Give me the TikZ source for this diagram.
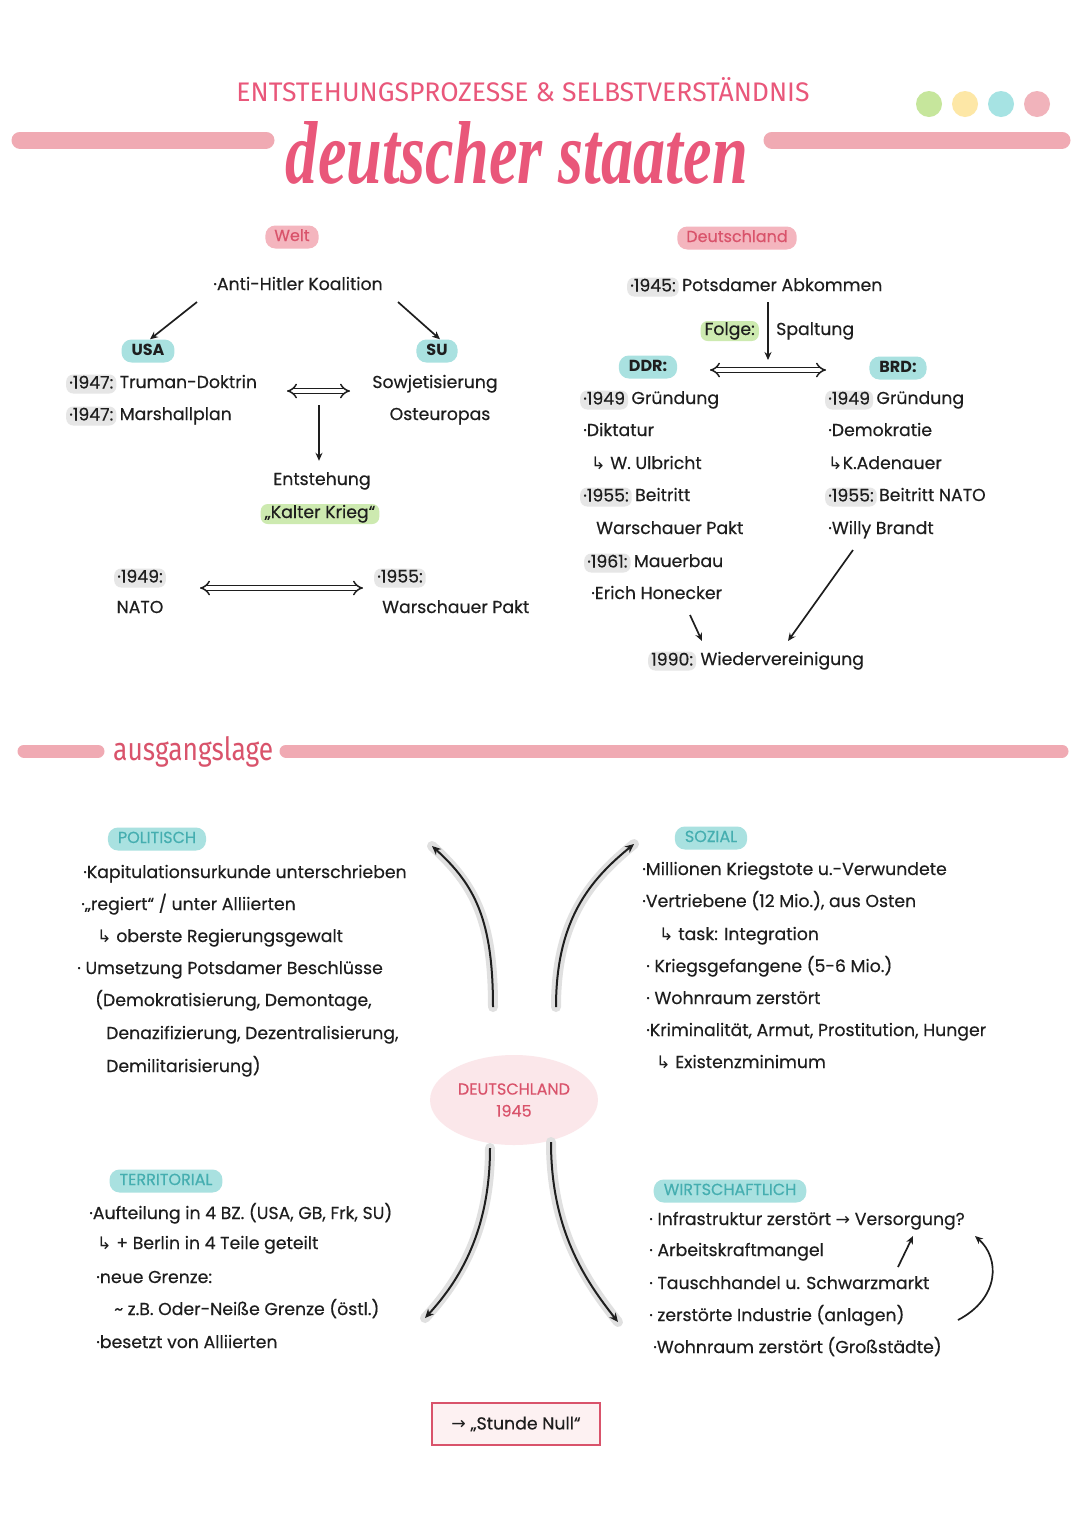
\documentclass[tikz,border=0pt]{standalone}
\usepackage{fontspec}
\setmainfont{Poppins}[UprightFeatures={FakeBold=0.35}]
\newfontfamily\symf{DejaVu Sans}
\newfontfamily\subf{Fira Sans}
\newfontfamily\titlef{Liberation Serif}
\usetikzlibrary{arrows.meta,shapes.geometric,calc}
\definecolor{ink}{HTML}{1E1E1E}
\definecolor{barpink}{HTML}{F0AAB3}
\definecolor{pillpinkc}{HTML}{F4B5BE}
\definecolor{redtxt}{HTML}{D9536B}
\definecolor{titlered}{HTML}{E9577A}
\definecolor{cyanfill}{HTML}{A9E1E0}
\definecolor{cyantxt}{HTML}{45AEB0}
\definecolor{greenhl}{HTML}{CDEAB0}
\definecolor{greyhl}{HTML}{E6E6E6}
\definecolor{dotgreen}{HTML}{C6E69C}
\definecolor{dotyellow}{HTML}{FDE7A6}
\definecolor{dotcyan}{HTML}{A6E3E3}
\definecolor{dotpink}{HTML}{F1B3BB}
\definecolor{ellfill}{HTML}{FBE7EA}
\definecolor{boxfill}{HTML}{FDF1F2}
\newcommand\bodyf{\fontsize{17.3}{20}\selectfont}
\newcommand\pillf{\fontsize{16}{18}\selectfont}
\newcommand\hk{{\symf ↳}}
\newcommand\ra{{\symf →}}
\tikzset{
  txt/.style={font=\bodyf, text=ink, inner sep=1pt, text height=12pt, text depth=4pt, anchor=west},
  txtc/.style={font=\bodyf, text=ink, inner sep=1pt, text height=12pt, text depth=4pt},
  yr/.style={font=\bodyf, text=ink, fill=greyhl, rounded corners=7pt, inner xsep=3pt, inner ysep=2pt, text height=12pt, text depth=3pt},
  hlg/.style={font=\bodyf, text=ink, fill=greenhl, rounded corners=7pt, inner xsep=4pt, inner ysep=2pt, text height=12pt, text depth=4pt},
  pillp/.style={font=\pillf, text=redtxt, fill=pillpinkc, rounded corners=10pt, inner xsep=9pt, minimum height=23pt, inner ysep=0pt, text height=11pt, text depth=3pt},
  pillc/.style={font=\pillf\bfseries, text=ink, fill=cyanfill, rounded corners=10pt, inner xsep=10pt, minimum height=23pt, inner ysep=0pt, text height=11pt, text depth=3pt},
  pillct/.style={pillc, font=\pillf, text=cyantxt},
  arr/.style={draw=ink, line width=1.7pt, -{Stealth[length=8pt,width=7pt]}},
  darr/.style={draw=ink, line width=1.5pt, double distance=3.5pt, {Implies}-{Implies}},
  bar/.style={draw=barpink, line width=17pt, line cap=round},
  carr/.style={draw=ink, line width=2pt, -{Stealth[length=9pt,width=8pt]}, preaction={draw=black!12, line width=10pt, line cap=round, -}},
}
\begin{document}
\begin{tikzpicture}[x=1pt,y=-1pt]
\useasboundingbox[fill=white] (0,0) rectangle (1080,1527);

% ---------- header ----------
\node[text=titlered, inner sep=0pt] (sub) at (523,90) {\resizebox{573pt}{24pt}{\subf\fontsize{30}{30}\selectfont ENTSTEHUNGSPROZESSE \& SELBSTVERSTÄNDNIS}};
\node[text=titlered, inner sep=0pt] (tit) at (517,153) {\resizebox{462pt}{62pt}{\titlef\bfseries\itshape deutscher staaten}};
\coordinate (bl1) at (20,140); \coordinate (bl2) at (266,140);
\coordinate (br1) at (772,140); \coordinate (br2) at (1062,140);
\draw[bar] (bl1) -- (bl2);
\draw[bar] (br1) -- (br2);
\fill[dotgreen] (929,104) circle (13);
\fill[dotyellow] (965,104) circle (13);
\fill[dotcyan] (1001,104) circle (13);
\fill[dotpink] (1037,104) circle (13);

% ---------- Welt ----------
\node[pillp] (welt) at (292,237) {Welt};
\node[txtc] (ahk) at (298,286) {·Anti-Hitler Koalition};
\node[pillc] (usa) at (148,351) {USA};
\node[pillc] (su) at (437,351) {SU};
\coordinate (ahkl) at (197,302);
\coordinate (ahkr) at (398,302);
\draw[arr] (ahkl) -- ([xshift=2pt]usa.north);
\draw[arr] (ahkr) -- ([xshift=3pt]su.north);
\node[yr, anchor=west] (y47a) at (66,384) {·1947:};
\node[txt] (tru) at ([xshift=2pt]y47a.east) {Truman-Doktrin};
\node[yr, anchor=west] (y47b) at (66,416) {·1947:};
\node[txt] (mar) at ([xshift=2pt]y47b.east) {Marshallplan};
\node[txtc] (sow) at (435,384) {Sowjetisierung};
\node[txtc] (ost) at (440,416) {Osteuropas};
\coordinate (da1l) at (287,391); \coordinate (da1r) at (350,391);
\draw[darr] (da1l) -- (da1r);
\node[txtc] (ent) at (322,481) {Entstehung};
\coordinate (dstart) at (319,405);
\draw[arr] (dstart) -- ([shift={(-3,-11)}]ent.north);
\node[hlg] (kk) at (320,514) {„Kalter Krieg“};

\node[yr] (y49) at (140,578) {·1949:};
\node[txtc] (nato) at (140,609) {NATO};
\node[yr, anchor=west] (y55) at (374,578) {·1955:};
\node[txt] (wp1) at (381,609) {Warschauer Pakt};
\coordinate (da2l) at (200,588); \coordinate (da2r) at (363,588);
\draw[darr] (da2l) -- (da2r);

% ---------- Deutschland ----------
\node[pillp] (de1) at (737,238) {Deutschland};
\node[yr, anchor=west] (y45) at (627,287) {·1945:};
\node[txt] (pot) at ([xshift=2pt]y45.east) {Potsdamer Abkommen};
\coordinate (vs) at (768,302);
\draw[arr] (vs) -- ++(0,58);
\node[hlg, anchor=east] (folge) at (759,331) {Folge:};
\node[txt] (spal) at (775,331) {Spaltung};
\node[pillc] (ddr) at (648,367) {DDR:};
\node[pillc] (brd) at (898,368) {BRD:};
\coordinate (da3l) at (710,370); \coordinate (da3r) at (826,370);
\draw[darr] (da3l) -- (da3r);

\node[yr, anchor=west] (d49) at (580,400) {·1949};
\node[txt] (d49t) at ([xshift=2pt]d49.east) {Gründung};
\node[txt] (dik) at (582,432) {·Diktatur};
\node[txt] (ulb) at (590,465) {\hk\ W. Ulbricht};
\node[yr, anchor=west] (d55) at (580,497) {·1955:};
\node[txt] (d55t) at ([xshift=2pt]d55.east) {Beitritt};
\node[txt] (wp2) at (595,530) {Warschauer Pakt};
\node[yr, anchor=west] (d61) at (584,563) {·1961:};
\node[txt] (d61t) at ([xshift=2pt]d61.east) {Mauerbau};
\node[txt] (hon) at (590,595) {·Erich Honecker};

\node[yr, anchor=west] (b49) at (825,400) {·1949};
\node[txt] (b49t) at ([xshift=2pt]b49.east) {Gründung};
\node[txt] (dem) at (827,432) {·Demokratie};
\node[txt] (ade) at (827,465) {\hk K.Adenauer};
\node[yr, anchor=west] (b55) at (825,497) {·1955:};
\node[txt] (b55t) at ([xshift=1pt]b55.east) {Beitritt NATO};
\node[txt] (wil) at (827,530) {·Willy Brandt};

\node[yr, anchor=west] (y90) at (648,661) {1990:};
\node[txt] (wv) at ([xshift=3pt]y90.east) {Wiedervereinigung};
\coordinate (honend) at (690,615);
\coordinate (wilend) at (853,550);
\draw[arr] (honend) -- (702,641);
\draw[arr] (wilend) -- (788,641);

% ---------- Ausgangslage ----------
\coordinate (al1) at (24,751); \coordinate (al2) at (98,751);
\coordinate (ar1) at (286,751); \coordinate (ar2) at (1062,751);
\draw[draw=barpink, line width=13pt, line cap=round] (al1) -- (al2);
\draw[draw=barpink, line width=13pt, line cap=round] (ar1) -- (ar2);
\node[text=redtxt, inner sep=0pt, anchor=base west] (ausg) at (113,760) {\resizebox{160pt}{24pt}{\subf\fontsize{30}{30}\selectfont ausgangslage}};

% POLITISCH
\node[pillct] (pol) at (157,839) {POLITISCH};
\node[txt] (p1) at (82,874) {·Kapitulationsurkunde unterschrieben};
\node[txt] (p2) at (80,906) {·„regiert“ / unter Alliierten};
\node[txt] (p3) at (96,938) {\hk\ oberste Regierungsgewalt};
\node[txt] (p4) at (76,970) {·\ Umsetzung Potsdamer Beschlüsse};
\node[txt] (p5) at (94,1002) {(Demokratisierung, Demontage,};
\node[txt] (p6) at (105,1035) {Denazifizierung, Dezentralisierung,};
\node[txt] (p7) at (105,1068) {Demilitarisierung)};

% SOZIAL
\node[pillct] (soz) at (711,838) {SOZIAL};
\node[txt] (s1) at (641,871) {·Millionen Kriegstote u.-Verwundete};
\node[txt] (s2) at (641,903) {·Vertriebene (12 Mio.), aus Osten};
\node[txt] (s3) at (658,936) {\hk\ task: Integration};
\node[txt] (s4) at (645,968) {·\ Kriegsgefangene (5-6 Mio.)};
\node[txt] (s5) at (645,1000) {·\ Wohnraum zerstört};
\node[txt] (s6) at (645,1032) {·Kriminalität, Armut, Prostitution, Hunger};
\node[txt] (s7) at (655,1064) {\hk\ Existenzminimum};

% centre
\node[ellipse, fill=ellfill, minimum width=166pt, minimum height=90pt, align=center, text=redtxt, font=\fontsize{16}{22}\selectfont] (d45) at (514,1100) {DEUTSCHLAND\\1945};
\coordinate (tl) at (432,846);
\coordinate (tr) at (634,844);
\coordinate (bll) at (425,1318);
\coordinate (brr) at (618,1322);
\draw[carr] ([shift={(-21,-93)}]d45.center) .. controls (493,920) and (475,885) .. (tl);
\draw[carr] ([shift={(42,-93)}]d45.center) .. controls (556,920) and (590,880) .. (tr);
\draw[carr] ([shift={(-24,48)}]d45.center) .. controls (490,1230) and (460,1280) .. (bll);
\draw[carr] ([shift={(37,42)}]d45.center) .. controls (551,1230) and (585,1280) .. (brr);

% TERRITORIAL
\node[pillct] (ter) at (166,1181) {TERRITORIAL};
\node[txt] (t1) at (88,1215) {·Aufteilung in 4 BZ. (USA, GB, Frk, SU)};
\node[txt] (t2) at (96,1245) {\hk\ + Berlin in 4 Teile geteilt};
\node[txt] (t3) at (95,1279) {·neue Grenze:};
\node[txt] (t4) at (113,1311) {\textasciitilde\ z.B. Oder-Neiße Grenze (östl.)};
\node[txt] (t5) at (95,1344) {·besetzt von Alliierten};

% WIRTSCHAFTLICH
\node[pillct] (wir) at (730,1191) {WIRTSCHAFTLICH};
\node[txt] (w1) at (648,1221) {·\ Infrastruktur zerstört \ra\ Versorgung?};
\node[txt] (w2) at (648,1252) {·\ Arbeitskraftmangel};
\node[txt] (w3) at (648,1285) {·\ Tauschhandel u. Schwarzmarkt};
\node[txt] (w4) at (648,1317) {·\ zerstörte Industrie (anlagen)};
\node[txt] (w5) at (652,1349) {·Wohnraum zerstört (Großstädte)};
\coordinate (wa1) at (898,1267);
\coordinate (wa2) at (913,1236);
\draw[arr] (wa1) -- (wa2);
\coordinate (wb1) at (958,1320);
\coordinate (wb2) at (975,1236);
\draw[arr] (wb1) .. controls (1000,1298) and (1000,1258) .. (wb2);

% Stunde Null
\node[draw=redtxt, line width=2pt, fill=boxfill, minimum width=168pt, minimum height=42pt, font=\bodyf, text=ink] (sn) at (516,1424) {\ra\ „Stunde Null“};
\end{tikzpicture}
\end{document}
